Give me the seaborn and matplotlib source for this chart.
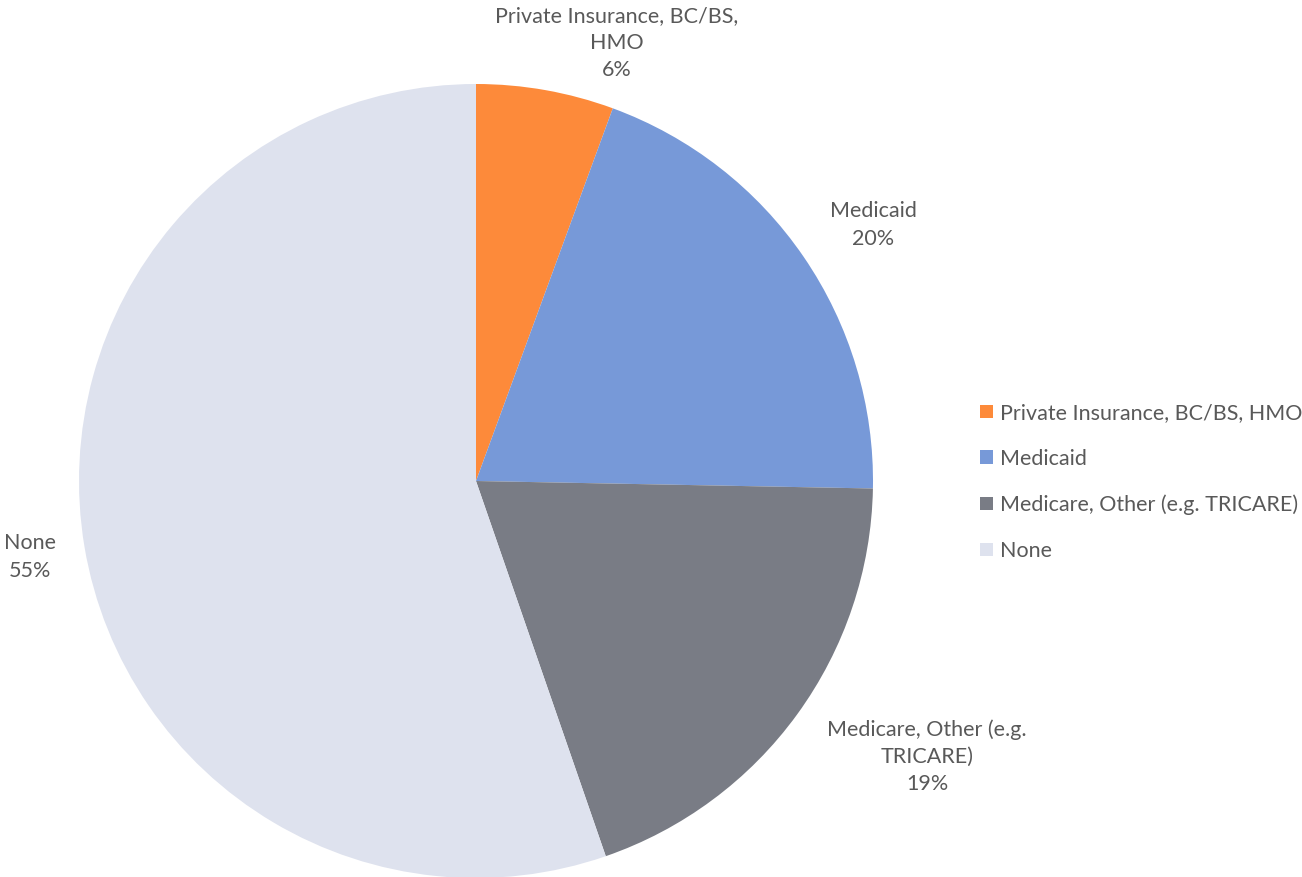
import matplotlib
matplotlib.use("Agg")
import matplotlib.pyplot as plt
import seaborn as sns

# Health insurance coverage shares (percent)
categories = ["Private Insurance, BC/BS, HMO", "Medicaid",
              "Medicare, Other (e.g. TRICARE)", "None"]
shares = [5.6, 19.7, 19.4, 55.3]
# Wrapped labels written next to each slice
slice_labels = ["Private Insurance, BC/BS,\nHMO", "Medicaid",
                "Medicare, Other (e.g.\nTRICARE)", "None"]
colors = ["#FD8A3A", "#7799D8", "#797C85", "#DEE2EE"]

sns.set_theme(style="white")
palette = sns.color_palette(colors)
plt.rcParams["font.family"] = ["Lato", "DejaVu Sans"]
TEXT = "#595959"

W, H = 1302, 877
fig = plt.figure(figsize=(W / 100, H / 100), dpi=100)
ax = fig.add_axes([0, 0, 1, 1])

cx, cy, r = 476, H - 481, 397
wedges, _ = ax.pie(shares, colors=palette, startangle=90, counterclock=False,
                   center=(cx, cy), radius=r, frame=True,
                   wedgeprops=dict(linewidth=0))
ax.set_xlim(0, W)
ax.set_ylim(0, H)
ax.set_aspect("equal")
ax.axis("off")

# Data label anchor points (pixel layout, y from top)
label_pos = [(617, 43), (873, 225), (927, 757), (30, 557)]
for lab, val, (x, y) in zip(slice_labels, shares, label_pos):
    ax.text(x, H - y, f"{lab}\n{val:.0f}%", ha="center", va="center",
            fontsize=15.5, color=TEXT, linespacing=1.45)

leg = ax.legend(wedges, categories, loc="center left",
                bbox_to_anchor=(971 / W, 1 - 482 / H),
                bbox_transform=fig.transFigure, frameon=False,
                fontsize=15.5, handlelength=0.6, handleheight=0.6,
                handletextpad=0.35, labelspacing=1.2, borderaxespad=0)
for t in leg.get_texts():
    t.set_color(TEXT)

fig.savefig("out.png", dpi=100)
